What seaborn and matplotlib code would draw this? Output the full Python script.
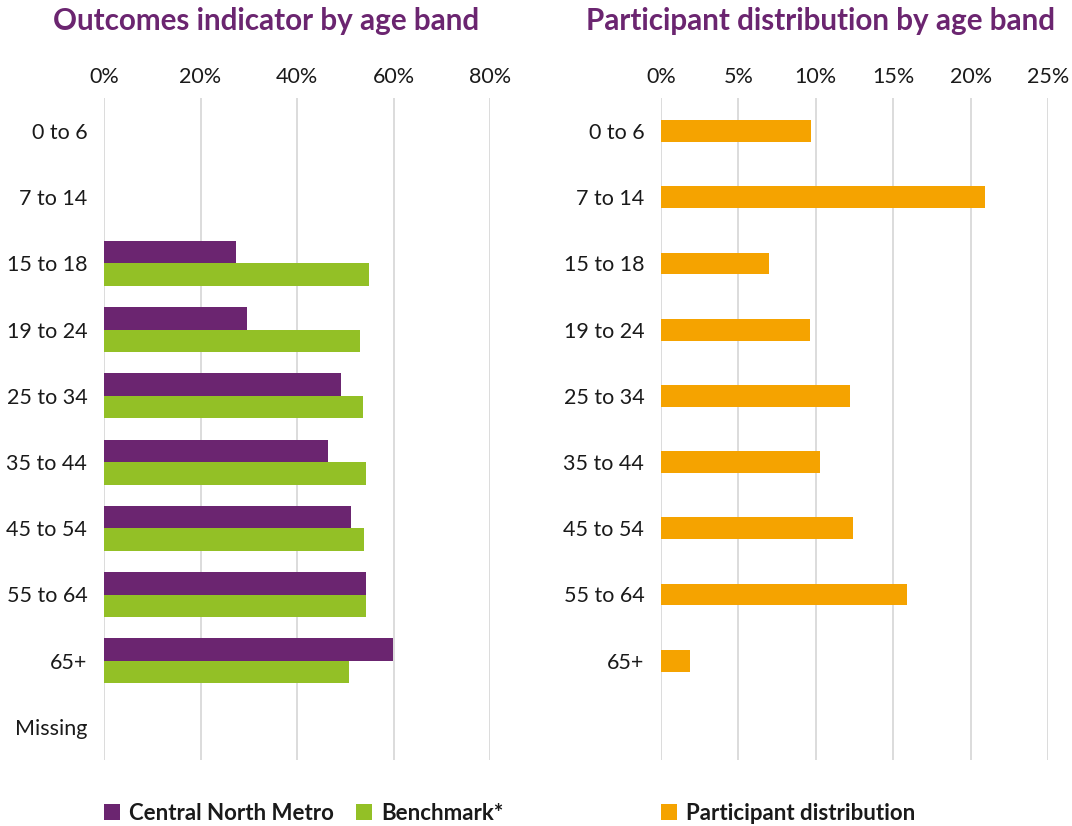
import numpy as np
import pandas as pd
import matplotlib
matplotlib.use("Agg")
import matplotlib.pyplot as plt
import seaborn as sns
from matplotlib.ticker import PercentFormatter

# data (percent)
age_bands = ["0 to 6", "7 to 14", "15 to 18", "19 to 24", "25 to 34",
             "35 to 44", "45 to 54", "55 to 64", "65+", "Missing"]
central_north_metro = [np.nan, np.nan, 27.3, 29.6, 49.1, 46.5, 51.2, 54.2, 59.8, np.nan]
benchmark = [np.nan, np.nan, 54.9, 53.0, 53.6, 54.2, 53.8, 54.2, 50.8, np.nan]
participant_share = [9.7, 20.95, 7.0, 9.6, 12.2, 10.3, 12.4, 15.9, 1.9, np.nan]

outcome_ticks = [0, 20, 40, 60, 80]
share_ticks = [0, 5, 10, 15, 20, 25]

PURPLE = "#6B2570"
GREEN = "#93C026"
ORANGE = "#F5A300"
GRID = "#D9D9D9"
TEXT = "#1A1A1A"

sns.set_theme(style="white")
plt.rcParams["font.family"] = ["Lato", "DejaVu Sans"]

outcomes = pd.DataFrame({
    "age_band": age_bands * 2,
    "value": central_north_metro + benchmark,
    "series": ["Central North Metro"] * len(age_bands) + ["Benchmark*"] * len(age_bands),
})
share = pd.DataFrame({
    "age_band": age_bands,
    "value": participant_share,
    "series": ["Participant distribution"] * len(age_bands),
})

W, H = 1072, 826
fig = plt.figure(figsize=(W / 100, H / 100), dpi=100)
top, bottom = 98, 760
ax1 = fig.add_axes([104 / W, 1 - bottom / H, (490 - 104) / W, (bottom - top) / H])
ax2 = fig.add_axes([661 / W, 1 - bottom / H, (1048 - 661) / W, (bottom - top) / H])

sns.barplot(data=outcomes, y="age_band", x="value", hue="series", order=age_bands,
            hue_order=["Central North Metro", "Benchmark*"], palette=[PURPLE, GREEN],
            orient="h", width=0.68, saturation=1, errorbar=None, linewidth=0, ax=ax1)
sns.barplot(data=share, y="age_band", x="value", hue="series", order=age_bands,
            palette=[ORANGE], orient="h", width=0.33, saturation=1, errorbar=None,
            linewidth=0, ax=ax2)

for ax, ticks in [(ax1, outcome_ticks), (ax2, share_ticks)]:
    ax.set_xlim(ticks[0], ticks[-1])
    ax.set_xticks(ticks)
    ax.xaxis.set_major_formatter(PercentFormatter(decimals=0))
    ax.xaxis.tick_top()
    ax.grid(axis="x", color=GRID, linewidth=1.3)
    ax.set_axisbelow(True)
    ax.tick_params(length=0, labelsize=15.5, labelcolor=TEXT)
    ax.tick_params(axis="x", pad=8)
    ax.tick_params(axis="y", pad=12)
    ax.set_xlabel("")
    ax.set_ylabel("")
    for s in ax.spines.values():
        s.set_visible(False)

# the right panel keeps the "Missing" row but without a label
ax2.set_yticks(range(len(age_bands)))
ax2.set_yticklabels(age_bands[:-1] + [""])

fig.text(266 / W, 1 - 21 / H, "Outcomes indicator by age band", ha="center", va="center",
         color=PURPLE, fontsize=21.3, fontweight="bold")
fig.text(820 / W, 1 - 21 / H, "Participant distribution by age band", ha="center", va="center",
         color=PURPLE, fontsize=21.3, fontweight="bold")

leg_kw = dict(title=None, frameon=False, bbox_transform=fig.transFigure, borderaxespad=0,
              borderpad=0, handlelength=0.72, handleheight=0.72, handletextpad=0.4,
              columnspacing=1.0, prop=dict(weight="bold", size=16))
sns.move_legend(ax1, "center left", bbox_to_anchor=(104 / W, 1 - 813 / H), ncol=2, **leg_kw)
sns.move_legend(ax2, "center left", bbox_to_anchor=(661 / W, 1 - 813 / H), ncol=1, **leg_kw)
for leg in [ax1.get_legend(), ax2.get_legend()]:
    for t in leg.get_texts():
        t.set_color(TEXT)

fig.savefig("out.png", dpi=100)
